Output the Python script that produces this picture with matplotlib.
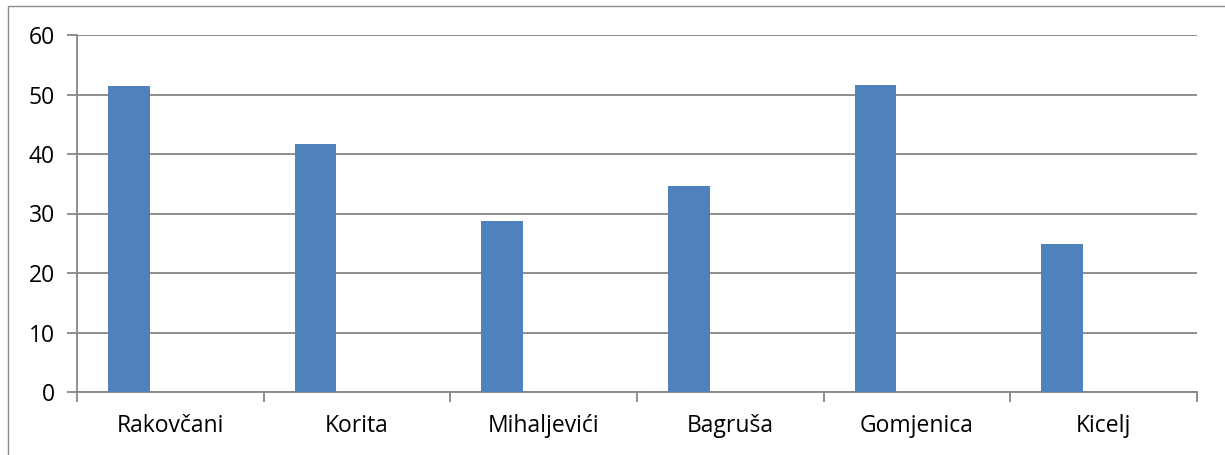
import matplotlib
matplotlib.use("Agg")
import matplotlib.pyplot as plt
from matplotlib.patches import Rectangle
import numpy as np

categories = ["Rakovčani", "Korita", "Mihaljevići", "Bagruša", "Gomjenica", "Kicelj"]
values = [51.4, 41.7, 28.7, 34.6, 51.6, 24.9]
yticks = [0, 10, 20, 30, 40, 50, 60]

plt.rcParams['font.family'] = ['Open Sans', 'DejaVu Sans']

W, H = 1225, 455
fig = plt.figure(figsize=(W/100, H/100), dpi=100)
ax = fig.add_axes([77/W, (H-392)/H, (1197-77)/W, (392-35)/H])

grid_c = "#868686"
x = np.arange(len(categories))
ax.bar(x - 0.222, values, width=0.224, color="#4F81BD", zorder=3)

fs = 16.5
ax.set_xlim(-0.5, len(categories) - 0.5)
ax.set_ylim(0, 60)
ax.set_yticks(yticks)
ax.set_yticklabels([str(v) for v in yticks], fontsize=fs)
ax.yaxis.grid(True, color=grid_c, linewidth=1.3, zorder=0)
ax.set_axisbelow(True)

ax.set_xticks(np.arange(len(categories) + 1) - 0.5)
ax.set_xticklabels([])
ax.set_xticks(x, minor=True)
ax.set_xticklabels(categories, minor=True, fontsize=fs)
ax.tick_params(axis='x', which='minor', length=0, pad=16)
ax.tick_params(axis='x', which='major', length=7, width=1.3, color=grid_c, direction='out')
ax.tick_params(axis='y', length=7, width=1.3, color=grid_c, pad=9)

for s in ['top', 'right']:
    ax.spines[s].set_visible(False)
for s in ['left', 'bottom']:
    ax.spines[s].set_color(grid_c)
    ax.spines[s].set_linewidth(1.3)

fig.patches.append(Rectangle((8/W, -0.1), 1.2, (H-6)/H + 0.1, transform=fig.transFigure,
                             fill=False, edgecolor="#8c8c8c", linewidth=1.0))

fig.savefig("out.png", dpi=100)
